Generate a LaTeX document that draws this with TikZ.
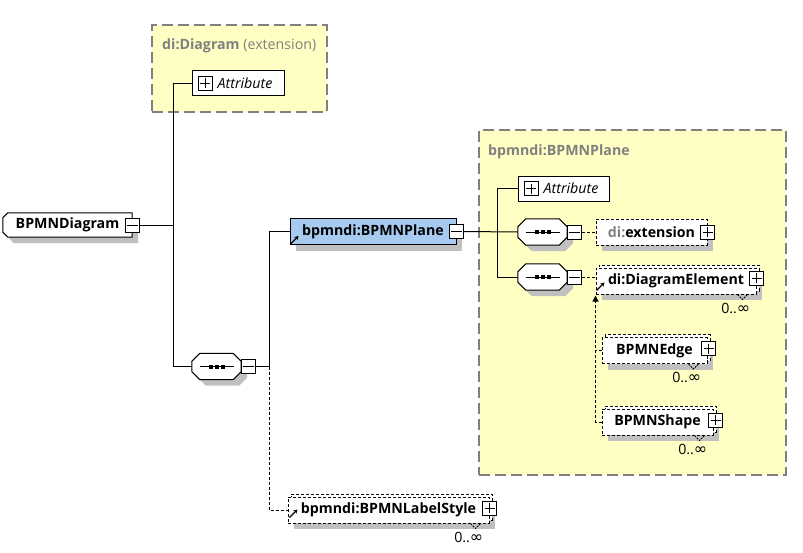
\documentclass[tikz,border=0pt]{standalone}
\usepackage{fontspec}
\setmainfont[Scale=1.42]{Open Sans}
\newfontfamily\symfont[Scale=1.6]{DejaVu Sans}
\usetikzlibrary{positioning,arrows.meta,shadows,backgrounds}
\definecolor{noteYellow}{HTML}{FFFFC4}
\definecolor{frameGray}{HTML}{808080}
\definecolor{planeBlue}{HTML}{A6CAF0}
\definecolor{shadeGray}{HTML}{C0C0C0}
\tikzset{
  shadowed/.style={drop shadow={shadow xshift=6pt, shadow yshift=-6pt, fill=shadeGray, opacity=1}},
  extbox/.style={rectangle, draw=frameGray, fill=noteYellow, line width=1.4pt,
                 dash pattern=on 11pt off 5pt},
  boxtitle/.style={anchor=base west, inner sep=0pt, text=frameGray},
  globaltext/.style={rectangle, inner sep=0pt, minimum height=24pt, font=\bfseries},
  globalshape/.style={draw, fill=white, line width=1pt, shadowed},
  element/.style={rectangle, draw, fill=white, line width=1pt, minimum height=26pt,
                  inner sep=0pt, font=\bfseries, shadowed},
  optelement/.style={element, dash pattern=on 3pt off 2pt},
  multielement/.style={optelement, preaction={draw, fill=white, line width=1pt,
                       dash pattern=on 3pt off 2pt, transform canvas={shift={(3pt,3pt)}}}},
  attrbox/.style={rectangle, draw, fill=white, line width=1pt, minimum height=25pt, inner sep=0pt},
  attrtext/.style={anchor=west, inner sep=0pt, font=\itshape},
  seqbox/.style={rectangle, minimum width=49pt, minimum height=26pt, inner sep=0pt},
  seqshape/.style={draw, fill=white, line width=1pt, shadowed},
  togglebox/.style={rectangle, draw, fill=white, line width=1pt, minimum size=14pt, inner sep=0pt},
  minusbox/.style={togglebox, path picture={
      \draw ([xshift=1.5pt]path picture bounding box.west) -- ([xshift=-1.5pt]path picture bounding box.east);}},
  plusbox/.style={togglebox, path picture={
      \draw ([xshift=2pt]path picture bounding box.west) -- ([xshift=-2pt]path picture bounding box.east);
      \draw ([yshift=-2pt]path picture bounding box.north) -- ([yshift=2pt]path picture bounding box.south);}},
  mult/.style={anchor=north east, inner sep=0pt},
  notch/.style={draw, line width=0.8pt, dash pattern=on 2pt off 1pt},
  link/.style={draw, line width=1pt},
  optlink/.style={link, dash pattern=on 3pt off 2pt},
  subst/.style={optlink, -{Triangle[length=6pt, width=6pt]}},
  refmark/.style={-{Stealth[length=4pt, width=4.5pt]}, line width=1.3pt}
}

\begin{document}
\begin{tikzpicture}[x=1pt, y=-1pt]
\useasboundingbox (0,0) rectangle (803,552);

% left part
\node[globaltext, minimum width=129pt] (dgm) at (67.5,225) {BPMNDiagram};
\node[minusbox] (dgmm) at (dgm.east) {};
\node[attrbox, minimum width=92pt] (att1) at (238,83) {};
\node[plusbox, right=6pt of att1.west] (att1p) {};
\node[attrtext, right=5pt of att1p] {Attribute};
\node[seqbox] (seq0) at (216.5,366.5) {};
\node[minusbox, anchor=west] (seq0m) at (seq0.east) {};
\node[element, fill=planeBlue, minimum width=166pt] (plane) at (373,231.5) {bpmndi:BPMNPlane};
\node[minusbox] (planem) at (plane.east) {};
\node[multielement, minimum width=201pt] (lstyle) at (388.5,510) {bpmndi:BPMNLabelStyle};
\node[plusbox] (lstylep) at ([shift={(0pt,2pt)}]lstyle.east) {};

% titles of the extension boxes
\node[boxtitle] (diagTitle) at (162,49) {\textbf{di:Diagram} (extension)};
\node[boxtitle] (planeTitle) at (488,155) {\textbf{bpmndi:BPMNPlane}};

% right part
\node[attrbox, minimum width=91pt] (att2) at (563.5,188.5) {};
\node[plusbox, right=6pt of att2.west] (att2p) {};
\node[attrtext, right=5pt of att2p] {Attribute};
\node[seqbox] (seq1) at (542.5,232) {};
\node[minusbox, anchor=west] (seq1m) at (seq1.east) {};
\node[seqbox] (seq2) at (542.5,277) {};
\node[minusbox, anchor=west] (seq2m) at (seq2.east) {};
\node[optelement, minimum width=111pt] (ext) at (651.5,232) {{\color{frameGray}di:}extension};
\node[plusbox] (extp) at (ext.east) {};
\node[multielement, minimum width=160pt] (elem) at (676,281) {di:DiagramElement};
\node[plusbox] (elemp) at ([shift={(0pt,3pt)}]elem.east) {};
\node[multielement, minimum width=105pt] (edge) at (654.5,350.5) {BPMNEdge};
\node[plusbox] (edgep) at ([shift={(1pt,2pt)}]edge.east) {};
\node[multielement, minimum width=111pt] (shape) at (657.5,422) {BPMNShape};
\node[plusbox] (shapep) at ([shift={(2pt,2pt)}]shape.east) {};

% occurrences
\foreach \m in {elem,edge,shape,lstyle} {
  \node[mult] at ([shift={(-6pt,-8pt)}]\m.south east) {0..{\symfont ∞}};
  \draw[notch] ([xshift=-19pt]\m.south east) -- ++(5,5) -- ++(5,-5);
}

% compositor symbols
\foreach \s in {seq0,seq1,seq2} {
  \draw[link] ([xshift=-17pt]\s.center) -- ([xshift=17pt]\s.center);
  \foreach \d in {-6,0,6}
    \fill ([xshift=\d pt]\s.center) +(-2pt,-2pt) rectangle +(2pt,2pt);
}

% connectors
\coordinate[right=34pt of dgmm.east] (j0);
\coordinate[right=13pt of seq0m.east] (j1);
\coordinate[right=33.5pt of planem.east] (j2);
\coordinate (subtip) at ([yshift=-1pt]elem.south west);
\draw[link] (dgmm.east) -- (j0);
\draw[link] (att1.west) -| (j0) |- (seq0.west);
\draw[link] (seq0m.east) -- (j1) |- (plane.west);
\draw[optlink] (j1) |- (lstyle.west);
\draw[link] (planem.east) -- (seq1.west);
\draw[link] (att2.west) -| (j2) |- (seq2.west);
\draw[optlink] (seq1m.east) -- (ext.west);
\draw[optlink] (seq2m.east) -- (seq2m.east -| elem.west);
\draw[subst] (shape.west) -| (subtip);
\draw[optlink] (edge.west) -- (edge.west -| subtip);
\draw[refmark] ([shift={(1pt,1pt)}]plane.south west) -- ++(8,-8);
\draw[refmark] ([shift={(1pt,4pt)}]elem.south west) -- ++(8,-8);
\draw[refmark] ([shift={(2pt,6pt)}]lstyle.south west) -- ++(8,-8);

\begin{scope}[on background layer]
\node[extbox, minimum width=175pt, minimum height=87pt] (diagExt) at (239.5,68.5) {};
\node[extbox, minimum width=307pt, minimum height=345pt] (planeExt) at (632.5,302.5) {};
\path[globalshape] ([xshift=5pt]dgm.north west) -- (dgm.north east) -- (dgm.south east)
  -- ([xshift=5pt]dgm.south west) -- ([yshift=5pt]dgm.south west) -- ([yshift=-5pt]dgm.north west) -- cycle;
\foreach \s in {seq0,seq1,seq2}
  \path[seqshape] ([xshift=8pt]\s.north west) -- ([xshift=-8pt]\s.north east)
    -- ([yshift=-8pt]\s.north east) -- ([yshift=8pt]\s.south east)
    -- ([xshift=-8pt]\s.south east) -- ([xshift=8pt]\s.south west)
    -- ([yshift=8pt]\s.south west) -- ([yshift=-8pt]\s.north west) -- cycle;
\end{scope}
\end{tikzpicture}
\end{document}
